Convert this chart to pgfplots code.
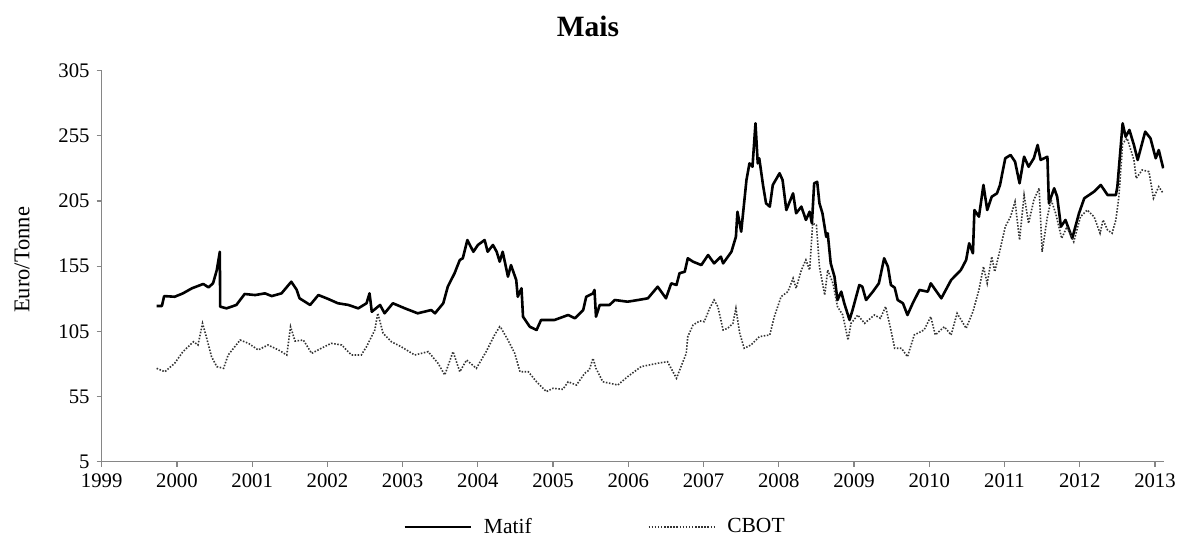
\documentclass[border=0pt]{standalone}
\usepackage{fontspec}
\setmainfont{Liberation Serif}
\usepackage{pgfplots}
\usepackage{pgfplotstable}
\pgfplotsset{compat=1.18}
\definecolor{axgray}{HTML}{868686}
\definecolor{cbot}{HTML}{333333}

\pgfplotstableread{
x y
1999.73 124.4
1999.80 124.4
1999.83 132
1999.97 131.5
2000.08 134.1
2000.20 138
2000.35 141.3
2000.42 138.7
2000.48 141.8
2000.53 152
2000.57 166
2000.575 123.9
2000.66 122.6
2000.79 125.2
2000.90 133.6
2001.04 132.8
2001.17 134.1
2001.26 132
2001.39 134.1
2001.52 143
2001.59 137
2001.63 130.3
2001.77 125.2
2001.88 132.8
2001.99 130.3
2002.14 126.5
2002.28 125.2
2002.41 122.6
2002.52 126.5
2002.56 134.1
2002.59 120
2002.70 125.2
2002.76 118.8
2002.87 126.5
2003.03 122.6
2003.20 118.8
2003.38 121.3
2003.43 118.8
2003.54 126.5
2003.60 139.2
2003.69 149.5
2003.76 159.7
2003.80 161
2003.86 175
2003.94 166
2004.00 171.2
2004.09 175
2004.13 166
2004.20 171.2
2004.25 166
2004.29 158.4
2004.33 166
2004.40 146.9
2004.44 155.8
2004.51 144.3
2004.53 131.5
2004.58 138
2004.60 116.2
2004.69 108.5
2004.78 106
2004.84 113.7
2005.02 113.7
2005.20 117.5
2005.29 115
2005.40 121.3
2005.44 131.5
2005.53 134.1
2005.55 136.7
2005.57 116.2
2005.62 125.2
2005.75 125.2
2005.82 129
2005.99 127.7
2006.13 129
2006.26 130.3
2006.39 139.2
2006.50 130.3
2006.57 141.8
2006.64 140.5
2006.68 149.5
2006.75 150.7
2006.79 161
2006.86 158.4
2006.97 155.8
2007.06 163.5
2007.14 157.1
2007.23 162.2
2007.26 157.1
2007.37 166
2007.43 177.5
2007.45 196.7
2007.50 181.4
2007.57 221
2007.61 233.8
2007.65 231.2
2007.69 264.5
2007.72 233.8
2007.74 237.7
2007.79 217.2
2007.83 203.2
2007.88 200.6
2007.92 217.2
2008.01 226.2
2008.05 221
2008.10 198
2008.19 210.8
2008.23 195.5
2008.30 200.6
2008.36 190.4
2008.41 196.7
2008.44 187.8
2008.47 218.5
2008.51 219.7
2008.54 203.2
2008.58 195.5
2008.63 177.5
2008.65 180.2
2008.69 157.1
2008.74 146.9
2008.78 129
2008.83 135.4
2008.87 126.5
2008.94 113.7
2008.98 121.3
2009.07 140.5
2009.11 139.2
2009.16 129
2009.25 135.4
2009.33 141.8
2009.40 161
2009.45 154.6
2009.49 140.5
2009.54 138.5
2009.58 129
2009.65 126.5
2009.71 117.5
2009.78 126.5
2009.87 136.7
2009.98 135.4
2010.02 141.8
2010.16 130.3
2010.29 144.3
2010.42 152
2010.49 159.7
2010.53 172.5
2010.58 164.8
2010.60 198
2010.66 192.9
2010.72 217.2
2010.77 198
2010.83 208.2
2010.90 210.8
2010.94 217.2
2011.01 237.7
2011.08 240.2
2011.14 235.1
2011.20 218.5
2011.26 238.9
2011.32 231.2
2011.39 237.7
2011.44 247.9
2011.48 236.4
2011.57 238.9
2011.59 203.2
2011.66 214.7
2011.70 208.2
2011.75 185.2
2011.81 190.4
2011.90 176.3
2011.99 195.5
2012.06 207
2012.19 212.1
2012.28 217.2
2012.37 209.5
2012.48 209.5
2012.50 215.9
2012.57 264.5
2012.61 254.2
2012.66 259.4
2012.72 247.9
2012.77 236.4
2012.87 258.1
2012.94 253
2013.01 237.7
2013.05 244
2013.11 230
}\matif

\pgfplotstableread{
x y
1999.73 76.6
1999.84 74
1999.97 80.5
2000.08 89.4
2000.22 97
2000.28 94.5
2000.34 111.1
2000.39 100.9
2000.46 85.5
2000.53 77.9
2000.62 76.6
2000.68 86.8
2000.84 98.3
2000.95 95.8
2001.08 90.7
2001.21 94.5
2001.35 90.7
2001.46 86.8
2001.51 108.5
2001.57 97.5
2001.68 98.3
2001.79 88.1
2001.92 92
2002.05 95.8
2002.19 94.5
2002.32 86.8
2002.45 86.8
2002.52 93.2
2002.63 106
2002.67 118.8
2002.74 103.5
2002.85 97
2002.98 93.2
2003.16 86.8
2003.34 89.4
2003.47 80.5
2003.56 71.5
2003.67 89.4
2003.76 74
2003.85 83
2003.98 76.6
2004.11 89.4
2004.22 102
2004.29 108.5
2004.31 107.3
2004.40 98.3
2004.49 88.1
2004.56 74
2004.67 74
2004.78 66.3
2004.91 58.7
2005.00 61.3
2005.13 60.5
2005.20 66.3
2005.31 63.8
2005.42 72.8
2005.48 75.3
2005.53 84.3
2005.57 76.6
2005.66 66.3
2005.86 63.8
2005.99 70.2
2006.17 77.9
2006.39 80.5
2006.52 81.7
2006.64 69
2006.70 77.9
2006.77 88.1
2006.79 100.9
2006.86 109.8
2006.95 113
2007.01 112.4
2007.08 122.6
2007.14 129
2007.19 123.9
2007.26 106
2007.32 107.3
2007.39 111.1
2007.43 122.6
2007.48 103.5
2007.54 92
2007.63 94.5
2007.74 100.9
2007.88 102.2
2007.94 116.2
2008.03 131.5
2008.12 135.4
2008.19 145.6
2008.23 138
2008.30 152
2008.36 159.7
2008.41 152
2008.45 187.8
2008.50 186.5
2008.54 154.6
2008.61 132.8
2008.65 152
2008.72 141.8
2008.78 123.9
2008.85 117.5
2008.92 98.3
2008.96 111.1
2009.05 117.5
2009.14 111.1
2009.27 117.5
2009.35 115
2009.42 123.9
2009.49 106
2009.54 92
2009.63 92
2009.71 85.5
2009.80 102.2
2009.93 106
2010.02 116.2
2010.08 102.2
2010.20 108.5
2010.29 102.2
2010.37 118.8
2010.49 107.3
2010.58 120
2010.66 136.7
2010.72 154.6
2010.77 141.8
2010.83 162.2
2010.87 150.7
2010.94 167.3
2011.01 185.2
2011.08 192.9
2011.14 204.4
2011.20 175
2011.26 209.5
2011.32 187.8
2011.39 205.7
2011.46 214.7
2011.50 166
2011.57 192.9
2011.62 205.7
2011.68 195.5
2011.76 176.3
2011.83 185.2
2011.92 173.7
2012.01 192.9
2012.10 198
2012.19 192.9
2012.27 180.2
2012.31 190.4
2012.37 182.7
2012.43 180.2
2012.48 190.4
2012.52 208.2
2012.57 249
2012.63 253
2012.72 236.4
2012.75 222.3
2012.83 228.7
2012.92 227.4
2012.98 207
2013.05 215.9
2013.11 210.8
}\cbot

\begin{document}
\begin{tikzpicture}
\begin{axis}[
  at={(50.85bp,36.65bp)}, anchor=south west,
  scale only axis, width=531.15bp, height=195.6bp,
  xmin=1999, xmax=2013.12, ymin=5, ymax=305,
  xtick={1999,2000,...,2013}, ytick={5,55,105,155,205,255,305},
  axis x line*=bottom, axis y line*=left,
  axis line style={axgray, line width=0.6bp},
  tick style={axgray, line width=0.6bp},
  tick align=outside, major tick length=2.6bp,
  /pgf/number format/assume math mode=true,
  /pgf/number format/1000 sep={},
  tick label style={font=\fontsize{10.4}{12}\selectfont, black},
  every axis title shift=0pt,
  title={Mais},
  title style={at={(axis description cs:0.4578,1.1138)}, anchor=center, font=\bfseries\fontsize{14.8}{17}\selectfont},
  ylabel={Euro/Tonne},
  ylabel style={at={(axis description cs:-0.075,0.516)}, anchor=center, font=\fontsize{11.3}{13}\selectfont},
  legend columns=2,
  legend style={draw=none, fill=none, at={(axis description cs:0.4653,-0.167)}, anchor=center,
    font=\fontsize{10.8}{12}\selectfont,
    /tikz/every even column/.append style={column sep=56bp}},
  legend image code/.code={\draw[#1] (0bp,0bp) -- (33bp,0bp); \path (37bp,0bp);},
]
\addplot[black, line width=1.3bp, line join=round] table[x=x,y=y] {\matif};
\addlegendentry{Matif}
\addplot[cbot, line width=0.8bp, dash pattern=on 0.75bp off 0.8bp] table[x=x,y=y] {\cbot};
\addlegendentry{CBOT}
\end{axis}
\pgfresetboundingbox
\path[use as bounding box] (0,0) rectangle (592bp,267.5bp);
\end{tikzpicture}
\end{document}
